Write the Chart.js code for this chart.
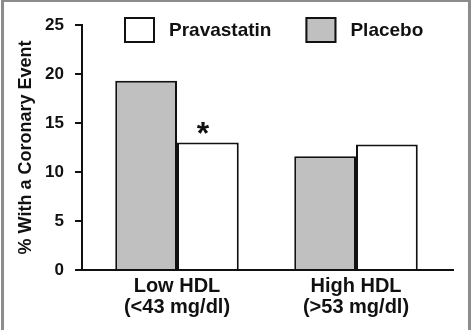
<!DOCTYPE html>
<html><head><meta charset="utf-8">
<script src="https://cdn.jsdelivr.net/npm/chart.js@4/dist/chart.umd.min.js"></script>
<style>
html,body{margin:0;padding:0;background:#fff;}
#wrap{position:relative;width:472px;height:330px;overflow:hidden;}
#frame{position:absolute;left:1px;top:0;width:464px;height:340px;border:solid #8c8c8c;border-width:2px 3px 0 3px;pointer-events:none;}
</style></head><body>
<div id="wrap"><canvas id="c" width="472" height="330"></canvas><div id="frame"></div></div>
<script>
const categories = [['Low HDL', '(<43 mg/dl)'], ['High HDL', '(>53 mg/dl)']];
const seriesNames = ['Placebo', 'Pravastatin'];
const placebo = [19.3, 11.6];
const pravastatin = [13.0, 12.8];
const pravastatinMarks = ['*', ''];
const yTitle = '% With a Coronary Event';
const yMin = 0, yMax = 25, yStep = 5;

const FONT = '"Liberation Sans", Arial, sans-serif';
const INK = '#111';

const toPoints = arr => arr.map((v, i) => ({x: i, y: v}));

const legendPlugin = {
  id: 'customLegend',
  afterDraw(chart) {
    const ctx = chart.ctx;
    const order = [1, 0];
    let x = 124; const y = 17;
    ctx.save();
    ctx.font = 'bold 19px ' + FONT;
    ctx.textBaseline = 'middle';
    ctx.textAlign = 'left';
    order.forEach(i => {
      const ds = chart.data.datasets[i];
      ctx.fillStyle = ds.backgroundColor;
      ctx.fillRect(x, y, 31, 26);
      ctx.lineWidth = 2; ctx.strokeStyle = INK;
      ctx.strokeRect(x + 1, y + 1, 29, 24);
      ctx.fillStyle = INK;
      ctx.fillText(ds.label, x + 45, y + 14);
      x += 45 + ctx.measureText(ds.label).width + 34;
    });
    ctx.restore();
  }
};

const markPlugin = {
  id: 'marks',
  afterDatasetsDraw(chart) {
    const ctx = chart.ctx;
    const meta = chart.getDatasetMeta(1);
    ctx.save();
    ctx.font = 'bold 32px ' + FONT;
    ctx.textAlign = 'center';
    ctx.textBaseline = 'alphabetic';
    ctx.fillStyle = INK;
    meta.data.forEach((el, i) => {
      if (pravastatinMarks[i]) ctx.fillText(pravastatinMarks[i], el.x - 5, el.y + 1);
    });
    ctx.restore();
  }
};

new Chart(document.getElementById('c'), {
  type: 'bar',
  data: {
    datasets: [
      {label: seriesNames[0], data: toPoints(placebo), backgroundColor: '#c0c0c0', borderColor: INK, borderWidth: 2},
      {label: seriesNames[1], data: toPoints(pravastatin), backgroundColor: '#ffffff', borderColor: INK, borderWidth: 2}
    ]
  },
  options: {
    responsive: false,
    animation: false,
    events: [],
    categoryPercentage: 0.69,
    barPercentage: 1,
    layout: {padding: {top: 25, right: 19, bottom: 0, left: 0}},
    plugins: {legend: {display: false}, tooltip: {enabled: false}},
    scales: {
      x: {
        type: 'linear',
        offset: false,
        min: -0.5307, max: 1.5419,
        grid: {display: false, offset: false, drawTicks: false},
        border: {display: true, color: INK, width: 2},
        afterBuildTicks: s => { s.ticks = categories.map((c, i) => ({value: i})); },
        afterFit: s => { s.height = 60; },
        ticks: {
          padding: 6,
          color: INK,
          font: {family: FONT, size: 20, weight: 'bold', lineHeight: 1.05},
          callback: v => categories[v]
        }
      },
      y: {
        min: yMin, max: yMax,
        afterFit: s => { s.width = 82; },
        grid: {display: true, drawOnChartArea: false, drawTicks: true, tickLength: 7, color: INK, lineWidth: 2},
        border: {display: true, color: INK, width: 2},
        ticks: {stepSize: yStep, padding: 11, color: INK, font: {family: FONT, size: 17, weight: 'bold'}},
        title: {display: true, text: yTitle, color: INK, padding: {top: 15, bottom: 0}, font: {family: FONT, size: 18, weight: 'bold'}}
      }
    }
  },
  plugins: [legendPlugin, markPlugin]
});
</script>
</body></html>
